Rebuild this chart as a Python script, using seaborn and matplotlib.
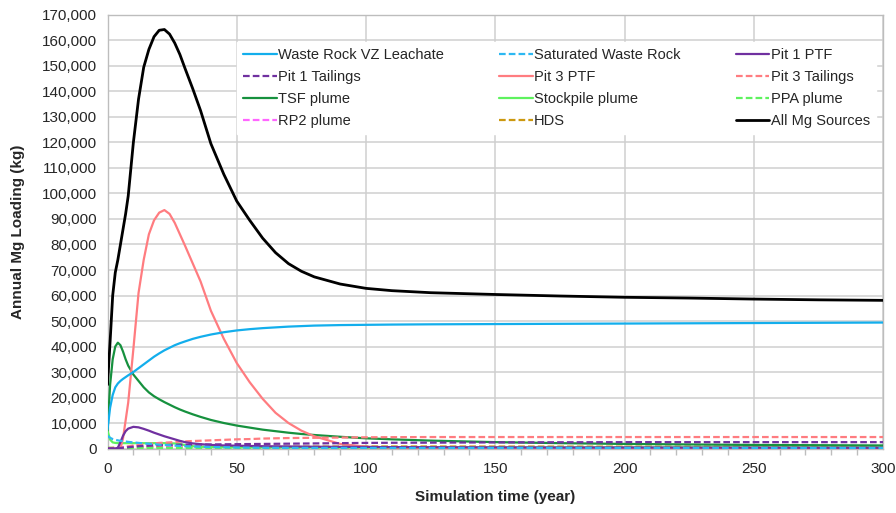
import matplotlib
matplotlib.use("Agg")
import matplotlib.pyplot as plt
import seaborn as sns
from matplotlib.ticker import FuncFormatter, MultipleLocator

# simulation years (uneven spacing, denser around the early peaks)
years = [0, 1, 2, 3, 4, 5, 6, 7, 8, 10, 12, 14, 16, 18, 20, 22, 24, 26, 28, 30,
         33, 36, 40, 45, 50, 55, 60, 65, 70, 75, 80, 90, 100, 110, 125, 150,
         175, 200, 225, 250, 275, 300]

# annual Mg loading (kg)
waste_rock_vz = [7500, 16000, 21000, 24000, 25500, 26500, 27300, 28000, 28700, 30000,
                 31500, 33000, 34500, 36000, 37300, 38500, 39500, 40500, 41300, 42000,
                 43000, 43800, 44700, 45600, 46300, 46800, 47200, 47500, 47800, 48000,
                 48200, 48400, 48500, 48600, 48700, 48800, 48900, 49000, 49100, 49200,
                 49300, 49400]
saturated_wr = [5000, 4200, 3700, 3400, 3200, 3000, 2900, 2750, 2600, 2400,
                2200, 2000, 1850, 1700, 1500, 1400, 1300, 1150, 1000, 900,
                800, 700, 600, 500, 400, 350, 300, 280, 260, 250,
                240, 230, 220, 220, 210, 200, 200, 200, 200, 200,
                200, 200]
pit1_ptf = [0, 0, 0, 0, 300, 2500, 5000, 6800, 7800, 8500,
            8300, 7700, 7000, 6200, 5500, 4800, 4200, 3600, 3000, 2500,
            2000, 1700, 1400, 1200, 1100, 1000, 900, 850, 800, 750,
            700, 650, 600, 550, 500, 450, 400, 400, 350, 350,
            300, 300]
pit1_tailings = [0, 0, 0, 0, 0, 200, 300, 400, 500, 700,
                 900, 1000, 1100, 1200, 1300, 1350, 1400, 1450, 1500, 1500,
                 1550, 1600, 1600, 1650, 1700, 1750, 1800, 1850, 1900, 1950,
                 2000, 2100, 2200, 2250, 2300, 2400, 2450, 2500, 2500, 2500,
                 2500, 2500]
pit3_ptf = [0, 0, 0, 0, 0, 0, 4000, 11000, 18000, 39000,
            61000, 74000, 84000, 89500, 92500, 93500, 92000, 88500, 84000, 79500,
            72500, 65500, 54000, 43000, 33500, 26000, 19500, 14000, 10000, 7000,
            4800, 1800, 700, 400, 300, 200, 200, 200, 200, 200,
            200, 200]
pit3_tailings = [0, 0, 0, 0, 0, 0, 300, 550, 800, 1200,
                 1450, 1700, 1850, 2000, 2200, 2300, 2400, 2550, 2700, 2800,
                 2950, 3050, 3200, 3400, 3600, 3700, 3900, 4000, 4100, 4150,
                 4200, 4300, 4400, 4450, 4500, 4500, 4500, 4500, 4500, 4500,
                 4500, 4500]
tsf_plume = [7000, 25000, 35000, 40000, 41500, 40500, 38000, 35000, 32500, 29000,
             26500, 24000, 22000, 20500, 19300, 18200, 17200, 16200, 15300, 14500,
             13400, 12400, 11200, 10000, 9000, 8200, 7400, 6800, 6200, 5700,
             5300, 4600, 4000, 3600, 3100, 2500, 2100, 1800, 1600, 1400,
             1300, 1200]
stockpile_plume = [7000, 3500, 2400, 2200, 2100, 2100, 2100, 2100, 2100, 2100,
                   2100, 2100, 2100, 2100, 2100, 2100, 2050, 2000, 1800, 1300,
                   900, 700, 600, 550, 500, 480, 460, 450, 440, 430,
                   420, 410, 400, 400, 400, 400, 400, 400, 400, 400,
                   400, 400]
ppa_plume = [300, 250, 200, 200, 200, 200, 200, 200, 200, 200,
             200, 200, 200, 200, 200, 200, 200, 200, 200, 200,
             200, 200, 200, 200, 200, 200, 200, 200, 200, 200,
             200, 200, 200, 200, 200, 200, 200, 200, 200, 200,
             200, 200]
rp2_plume = [0, 100, 200, 300, 400, 500, 600, 700, 800, 1000,
             1100, 1150, 1200, 1200, 1200, 1150, 1100, 1050, 1000, 1000,
             950, 900, 800, 700, 600, 550, 500, 480, 460, 450,
             440, 420, 400, 380, 360, 340, 320, 300, 300, 300,
             300, 300]
hds = [200, 250, 300, 320, 350, 380, 400, 420, 450, 500,
       520, 540, 560, 580, 600, 610, 620, 630, 640, 650,
       660, 670, 680, 690, 700, 710, 720, 730, 740, 750,
       760, 780, 800, 800, 800, 780, 760, 740, 720, 700,
       700, 700]
all_mg = [25000, 42000, 60000, 69000, 74000, 80000, 86000, 92000, 99000, 120000,
          137000, 149500, 156500, 161500, 164000, 164300, 162500, 159000, 154500, 149000,
          141000, 132500, 119500, 107500, 97000, 89500, 82500, 76800, 72500, 69500,
          67300, 64500, 62800, 61900, 61100, 60400, 59800, 59300, 59000, 58600,
          58300, 58100]

DASH = (0, (3, 1.4))
series = [
    ("Waste Rock VZ Leachate", waste_rock_vz, "#13AEEC", "-"),
    ("Saturated Waste Rock", saturated_wr, "#2DB8F2", DASH),
    ("Pit 1 PTF", pit1_ptf, "#7030A0", "-"),
    ("Pit 1 Tailings", pit1_tailings, "#7030A0", DASH),
    ("Pit 3 PTF", pit3_ptf, "#FF7C80", "-"),
    ("Pit 3 Tailings", pit3_tailings, "#FF7C80", DASH),
    ("TSF plume", tsf_plume, "#16913E", "-"),
    ("Stockpile plume", stockpile_plume, "#5EF25E", "-"),
    ("PPA plume", ppa_plume, "#5EF25E", DASH),
    ("RP2 plume", rp2_plume, "#FF66FF", DASH),
    ("HDS", hds, "#CC9910", DASH),
    ("All Mg Sources", all_mg, "#000000", "-"),
]

sns.set_style("white")
plt.rcParams["font.family"] = ["Liberation Sans", "DejaVu Sans"]

fig, ax = plt.subplots(figsize=(8.96, 5.13), dpi=100)
fig.subplots_adjust(left=0.12, right=0.9855, bottom=0.1257, top=0.9708)

# draw in reverse so the total sits on top like the original
for name, vals, color, ls in reversed(series):
    sns.lineplot(x=years, y=vals, ax=ax, color=color, linestyle=ls,
                 linewidth=1.6 if name != "All Mg Sources" else 2.0,
                 label=name, zorder=3)

ax.set_xlim(0, 300)
ax.set_ylim(0, 170000)
ax.xaxis.set_major_locator(MultipleLocator(50))
ax.xaxis.set_minor_locator(MultipleLocator(10))
ax.yaxis.set_major_locator(MultipleLocator(10000))
ax.yaxis.set_major_formatter(FuncFormatter(lambda v, p: f"{int(v):,}"))

grid_c = "#CFCFCF"
ax.grid(True, which="major", color=grid_c, linewidth=1.1, zorder=0)
for sp in ax.spines.values():
    sp.set_color("#BDBDBD")
    sp.set_linewidth(1.0)
ax.tick_params(axis="both", which="both", direction="out", color="#BDBDBD",
               length=4, width=1, labelsize=11, labelcolor="#262626")
ax.tick_params(axis="x", which="major", pad=6)
ax.tick_params(axis="x", which="minor", bottom=True, length=4)

ax.set_xlabel("Simulation time (year)", fontsize=11, fontweight="bold", labelpad=10)
ax.set_ylabel("Annual Mg Loading (kg)", fontsize=11, fontweight="bold", labelpad=12)

# legend in row order, 3 columns (matplotlib fills column-wise)
handles, labels = ax.get_legend_handles_labels()
handles, labels = handles[::-1], labels[::-1]
order = [0, 3, 6, 9, 1, 4, 7, 10, 2, 5, 8, 11]
leg = ax.legend([handles[i] for i in order], [labels[i] for i in order],
                ncol=3, loc="upper left", mode="expand",
                bbox_to_anchor=(0.158, 0.755, 0.842, 0.2),
                fontsize=10.5, frameon=True, framealpha=1, fancybox=False,
                edgecolor="white", facecolor="white", borderpad=0.4,
                handlelength=2.3, handletextpad=0.1, labelspacing=0.56,
                columnspacing=1.0)
leg.set_zorder(5)

fig.savefig("out.png", dpi=100)
